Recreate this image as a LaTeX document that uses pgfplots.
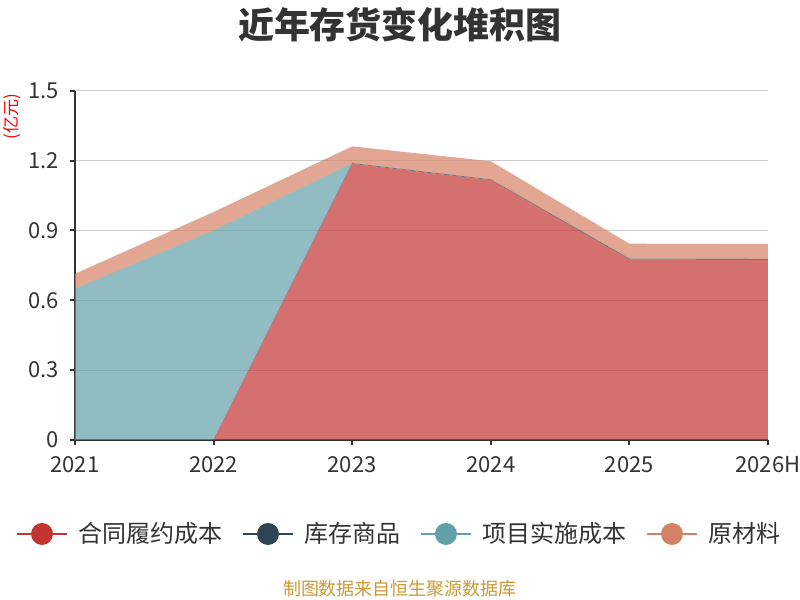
\documentclass[border=0pt]{standalone}
\usepackage{fontspec}
\setmainfont{Noto Sans CJK SC}
\usepackage{pgfplots}
\usepackage{pgfplotstable}
\pgfplotsset{compat=1.18}
\definecolor{cRed}{HTML}{C23531}
\definecolor{cDark}{HTML}{2F4554}
\definecolor{cTeal}{HTML}{61A0A8}
\definecolor{cOrange}{HTML}{D48265}
\definecolor{cText}{HTML}{333333}
\definecolor{cGrid}{HTML}{CCCCCC}
\definecolor{cSrc}{HTML}{CC9933}
\pgfplotstableread{
x red dark teal orange
0 0 0 0.65 0.064
1 0 0 0.90 0.079
2 1.186 0.003 0 0.072
3 1.116 0.003 0 0.078
4 0.775 0.004 0 0.064
5 0.773 0.004 0 0.064
}\data
\begin{document}
\begin{tikzpicture}
\path[use as bounding box] (0,0) rectangle (400pt,300pt);
\begin{axis}[
  at={(37.5pt,80pt)}, anchor=south west,
  scale only axis, width=346.5pt, height=174.65pt,
  xmin=0, xmax=5, ymin=0, ymax=1.5,
  stack plots=y,
  axis lines=left,
  axis line style={-, cText, line width=1pt},
  xtick={0,1,2,3,4,5},
  xticklabels={2021,2022,2023,2024,2025,2026H},
  ytick={0,0.3,0.6,0.9,1.2,1.5},
  yticklabels={0,0.3,0.6,0.9,1.2,1.5},
  tick style={cText, line width=1pt},
  tick align=outside,
  major tick length=2.5pt,
  ymajorgrids,
  major grid style={cGrid, line width=0.6pt},
  tick label style={font=\fontsize{11pt}{13pt}\selectfont, text=cText},
  xticklabel style={yshift=-2pt},
  yticklabel style={xshift=-2pt},
  /pgf/number format/assume math mode=true,
  legend columns=4,
  legend style={draw=none, fill=none, at={(0.469,-0.269)}, anchor=center,
    font=\fontsize{12pt}{14pt}\selectfont, text=cText,
    /tikz/every even column/.append style={column sep=8pt},
    /tikz/every odd column/.append style={column sep=3pt},
    inner sep=0pt},
  legend image code/.code={
    \draw[#1, draw opacity=1, line width=1pt] (0pt,0pt) -- (25pt,0pt);
    \fill[#1, fill opacity=1] (12.5pt,0pt) circle (5.5pt);
  },
]
\addplot[fill=cRed, fill opacity=0.7, draw=none, cRed] table[x=x,y=red]{\data} \closedcycle;
\addlegendentry{合同履约成本}
\addplot[fill=cDark, fill opacity=0.7, draw=none, cDark] table[x=x,y=dark]{\data} \closedcycle;
\addlegendentry{库存商品}
\addplot[fill=cTeal, fill opacity=0.7, draw=none, cTeal] table[x=x,y=teal]{\data} \closedcycle;
\addlegendentry{项目实施成本}
\addplot[fill=cOrange, fill opacity=0.7, draw=none, cOrange] table[x=x,y=orange]{\data} \closedcycle;
\addlegendentry{原材料}
\end{axis}
\node[font=\fontsize{18pt}{20pt}\selectfont\bfseries, text=cText] at (200pt,287.5pt) {近年存货变化堆积图};
\node[font=\fontsize{8.5pt}{9pt}\selectfont, text=red, rotate=90] at (6pt,241.5pt) {(亿元)};
\node[font=\fontsize{9pt}{10pt}\selectfont, text=cSrc] at (200pt,5.5pt) {制图数据来自恒生聚源数据库};
\end{tikzpicture}
\end{document}
